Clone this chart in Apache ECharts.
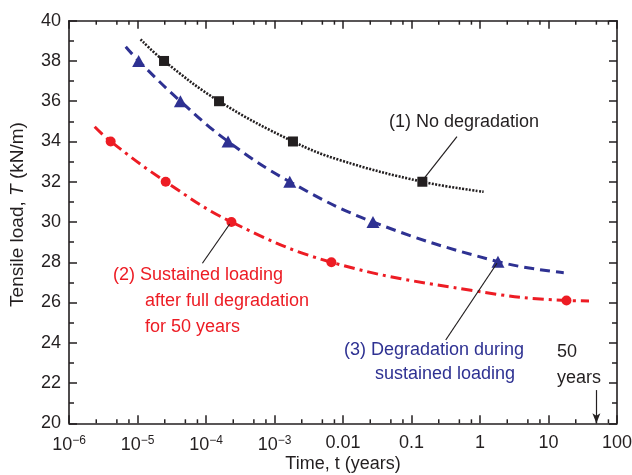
<!DOCTYPE html>
<html>
<head>
<meta charset="utf-8">
<script src="https://cdn.jsdelivr.net/npm/echarts@6/dist/echarts.min.js"></script>
<style>html,body{margin:0;padding:0;background:#fff}#c{width:632px;height:475px}</style>
</head>
<body>
<div id="c"></div>
<script>
// ---- data (time in years, tensile load in kN/m) ----
const noDegLine = [[1.11e-5,39.07],[2.44e-5,38.0],[1.55e-4,36.0],[1.86e-3,34.0],[8.9e-3,33.08],[0.144,32.0],[1.13,31.5]];
const noDegPts = [[2.44e-5,38.0],[1.55e-4,36.0],[1.86e-3,34.0],[0.144,32.0]];
const sustLine = [[2.37e-6,34.73],[4.06e-6,34.0],[2.58e-5,32.0],[2.35e-4,30.0],[6.77e-3,28.0],[0.79,26.59],[18.3,26.1],[39,26.08]];
const sustPts = [[4.06e-6,34.0],[2.58e-5,32.0],[2.35e-4,30.0],[6.77e-3,28.0],[18.3,26.1]];
const degLine = [[6.73e-6,38.71],[1.04e-5,38.0],[4.23e-5,36.0],[2.1e-4,34.0],[1.67e-3,32.0],[0.0274,30.0],[1.83,28.03],[16.7,27.48]];
const degPts = [[1.04e-5,38.0],[4.23e-5,36.0],[2.1e-4,34.0],[1.67e-3,32.0],[0.0274,30.0],[1.83,28.03]];
const xTickLabels = ['10{sup|\u22126}','10{sup|\u22125}','10{sup|\u22124}','10{sup|\u22123}','0.01','0.1','1','10','100'];
const xMinorTicks = [];
for (let e = -6; e < 2; e++) { [2.5,5,7.5].forEach(m => xMinorTicks.push(m * Math.pow(10, e))); }
const leader1 = [[0.461,34.24],[0.147,32.09]];
const leader2 = [[8.86e-5,27.95],[2.22e-4,29.9]];
const leader3 = [[0.316,24.14],[1.77,27.95]];
const arrow50 = [[50,21.65],[50,20]];

const BLACK = '#231f20', RED = '#ed1c24', BLUE = '#2e3192';
const FONT = 'Liberation Sans, Arial, sans-serif';

const chart = echarts.init(document.getElementById('c'), null, {renderer:'canvas'});
const axisCommon = {
  axisLine: {show:true, onZero:false, lineStyle:{color:BLACK, width:1.6}},
  axisTick: {show:true, inside:true, length:8, lineStyle:{color:BLACK, width:1.5}},
  splitLine: {show:false}
};
function ml(pts, withArrow) {
  return {
    silent:true, animation:false,
    symbol: withArrow ? ['none','arrow'] : ['none','none'],
    symbolSize: withArrow ? [6,10] : 0,
    lineStyle:{color:BLACK, width:1.2, type:'solid'},
    label:{show:false},
    data:[[{coord:pts[0]},{coord:pts[1]}]]
  };
}
chart.setOption({
  animation:false,
  grid:{left:69, top:20.7, width:548, height:402.6, containLabel:false, outerBoundsMode:'none'},
  xAxis:[
    Object.assign({}, axisCommon, {
      type:'log', logBase:10, min:1e-6, max:100, position:'bottom',
      name:'Time, t (years)', nameLocation:'middle', nameGap:32, nameMoveOverlap:false,
      nameTextStyle:{fontFamily:FONT, fontSize:18, color:BLACK},
      axisLabel:{margin:11, fontFamily:FONT, fontSize:18, color:BLACK,
        formatter:function(v){ const i = Math.round(Math.log10(v)) + 6; return xTickLabels[i] || ''; },
        rich:{sup:{fontFamily:FONT, fontSize:12, color:BLACK, verticalAlign:'bottom', padding:[0,0,10,0]}}}
    }),
    Object.assign({}, axisCommon, {
      type:'log', logBase:10, min:1e-6, max:100, position:'top', axisLabel:{show:false}
    })
  ],
  yAxis:[
    Object.assign({}, axisCommon, {
      type:'value', min:20, max:40, interval:2, position:'left',
      minorTick:{show:true, splitNumber:2, length:5, lineStyle:{color:BLACK, width:1.5}},
      name:'{n|Tensile load, }{i|T}{n| (kN/m)}', nameLocation:'middle', nameGap:42,
      nameTextStyle:{padding:[0,0,0,15], rich:{n:{fontFamily:FONT, fontSize:19, color:BLACK}, i:{fontFamily:FONT, fontSize:19, color:BLACK, fontStyle:'italic'}}},
      axisLabel:{margin:8, fontFamily:FONT, fontSize:18, color:BLACK}
    }),
    Object.assign({}, axisCommon, {
      type:'value', min:20, max:40, interval:2, position:'right',
      minorTick:{show:true, splitNumber:2, length:5, lineStyle:{color:BLACK, width:1.5}},
      axisLabel:{show:false}
    })
  ],
  series:[
    {type:'custom', xAxisIndex:0, yAxisIndex:0, silent:true, clip:false,
     data:xMinorTicks.map(v=>[v]),
     renderItem:function(params, api){
       const v = api.value(0);
       const b = api.coord([v, 20]), t = api.coord([v, 40]);
       return {type:'group', children:[
         {type:'line', shape:{x1:b[0], y1:b[1], x2:b[0], y2:b[1]-4}, style:{stroke:BLACK, lineWidth:1.5}},
         {type:'line', shape:{x1:t[0], y1:t[1], x2:t[0], y2:t[1]+4}, style:{stroke:BLACK, lineWidth:1.5}}
       ]};
     }},
    {type:'line', data:noDegLine, smooth:0.4, showSymbol:false, symbol:'none',
     lineStyle:{color:BLACK, width:2.6, type:[2,1.4]}, markLine:ml(leader1)},
    {type:'scatter', data:noDegPts, symbol:'rect', symbolSize:10, itemStyle:{color:BLACK, opacity:1}},
    {type:'line', data:degLine, smooth:0.4, showSymbol:false, symbol:'none',
     lineStyle:{color:BLUE, width:3, type:[10,6]}, markLine:ml(leader3)},
    {type:'scatter', data:degPts, symbol:'triangle', symbolSize:[13,12], itemStyle:{color:BLUE, opacity:1}},
    {type:'line', data:sustLine, smooth:0.4, showSymbol:false, symbol:'none',
     lineStyle:{color:RED, width:3, type:[11,5,3,5]}, markLine:ml(leader2)},
    {type:'scatter', data:sustPts, symbol:'circle', symbolSize:10, itemStyle:{color:RED, opacity:1},
     markLine:ml(arrow50, true)}
  ],
  graphic:[
    {type:'text', left:389, top:113, style:{text:'(1) No degradation', font:'18px '+FONT, fill:BLACK}},
    {type:'text', left:113, top:266, style:{text:'(2) Sustained loading', font:'18px '+FONT, fill:RED}},
    {type:'text', left:145, top:292, style:{text:'after full degradation', font:'18px '+FONT, fill:RED}},
    {type:'text', left:145, top:318, style:{text:'for 50 years', font:'18px '+FONT, fill:RED}},
    {type:'text', left:344, top:341, style:{text:'(3) Degradation during', font:'18px '+FONT, fill:BLUE}},
    {type:'text', left:375, top:365, style:{text:'sustained loading', font:'18px '+FONT, fill:BLUE}},
    {type:'text', left:557, top:343, style:{text:'50', font:'18px '+FONT, fill:BLACK}},
    {type:'text', left:557, top:369, style:{text:'years', font:'18px '+FONT, fill:BLACK}}
  ]
});
</script>
</body>
</html>
